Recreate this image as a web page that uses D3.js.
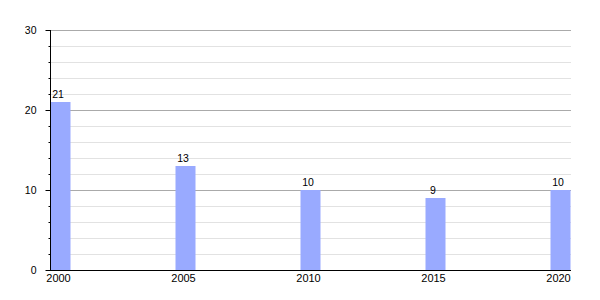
<!DOCTYPE html>
<html>
<head>
<meta charset="utf-8">
<script src="https://cdn.jsdelivr.net/npm/d3@7"></script>
<style>
    body { margin: 0; background: #fff; }
    text { font-family: "Liberation Sans", Arial, sans-serif; fill: #000; }
</style>
</head>
<body>
<div id="chart"></div>
<script>
var years = [2000, 2005, 2010, 2015, 2020];
var values = [21, 13, 10, 9, 10];
var majorTicks = [0, 10, 20, 30];
var minorTicks = [2, 4, 6, 8, 12, 14, 16, 18, 22, 24, 26, 28];

var width = 600;
var height = 300;
var plotLeft = 50, plotRight = 571, plotTop = 30, plotBottom = 270;
var barWidth = 20;
var labelShift = 8;

var data = years.map(function (y, i) {
    return {year: y, value: values[i]};
});

var xScale = d3.scaleLinear()
    .domain([2000, 2020])
    .range([plotLeft, 550]);

var yScale = d3.scaleLinear()
    .domain([0, 30])
    .range([plotBottom, plotTop]);

var svg = d3.select('#chart')
    .append('svg')
    .attr('width', width)
    .attr('height', height);

// minor grid
svg.append('g')
    .selectAll('line')
    .data(minorTicks)
    .enter()
    .append('line')
    .attr('x1', plotLeft)
    .attr('x2', plotRight)
    .attr('y1', function (d) { return yScale(d) + 0.5; })
    .attr('y2', function (d) { return yScale(d) + 0.5; })
    .attr('stroke', '#e2e2e2');

// major grid
svg.append('g')
    .selectAll('line')
    .data(majorTicks.slice(1))
    .enter()
    .append('line')
    .attr('x1', plotLeft)
    .attr('x2', plotRight)
    .attr('y1', function (d) { return yScale(d) + 0.5; })
    .attr('y2', function (d) { return yScale(d) + 0.5; })
    .attr('stroke', '#aaaaaa');

svg.append('g')
    .selectAll('rect')
    .data(data)
    .enter()
    .append('rect')
    .attr('x', function (d) { return xScale(d.year) + 0.5; })
    .attr('y', function (d) { return yScale(d.value); })
    .attr('width', barWidth)
    .attr('height', function (d) { return yScale(0) - yScale(d.value); })
    .attr('fill', '#99aaff');

svg.append('g')
    .selectAll('text')
    .data(data)
    .enter()
    .append('text')
    .attr('x', function (d) { return xScale(d.year) + labelShift; })
    .attr('y', function (d) { return yScale(d.value) - 4; })
    .attr('text-anchor', 'middle')
    .style('font-size', '10.5px')
    .text(function (d) { return d.value; });

// y axis
var yAxis = d3.axisLeft(yScale)
    .tickValues(majorTicks)
    .tickSize(5)
    .tickPadding(9);

var yg = svg.append('g')
    .attr('transform', 'translate(' + (plotLeft + 0.5) + ',0)')
    .call(yAxis);
yg.select('.domain').remove();
yg.selectAll('text').style('font-size', '10.5px');

svg.append('g')
    .attr('transform', 'translate(' + (plotLeft + 0.5) + ',0)')
    .call(d3.axisLeft(yScale).tickValues(minorTicks).tickSize(2).tickFormat(''))
    .select('.domain').remove();

svg.append('line')
    .attr('x1', plotLeft + 0.5)
    .attr('x2', plotLeft + 0.5)
    .attr('y1', plotTop)
    .attr('y2', plotBottom)
    .attr('stroke', '#000');

// x axis
var xAxis = d3.axisBottom(xScale)
    .tickValues(years)
    .tickSize(0)
    .tickPadding(4)
    .tickFormat(d3.format('d'));

var xg = svg.append('g')
    .attr('transform', 'translate(' + labelShift + ',' + (plotBottom + 0.5) + ')')
    .call(xAxis);
xg.select('.domain').remove();
xg.selectAll('text').style('font-size', '11px');

svg.append('line')
    .attr('x1', plotLeft)
    .attr('x2', plotRight)
    .attr('y1', plotBottom + 0.5)
    .attr('y2', plotBottom + 0.5)
    .attr('stroke', '#000');
</script>
</body>
</html>
